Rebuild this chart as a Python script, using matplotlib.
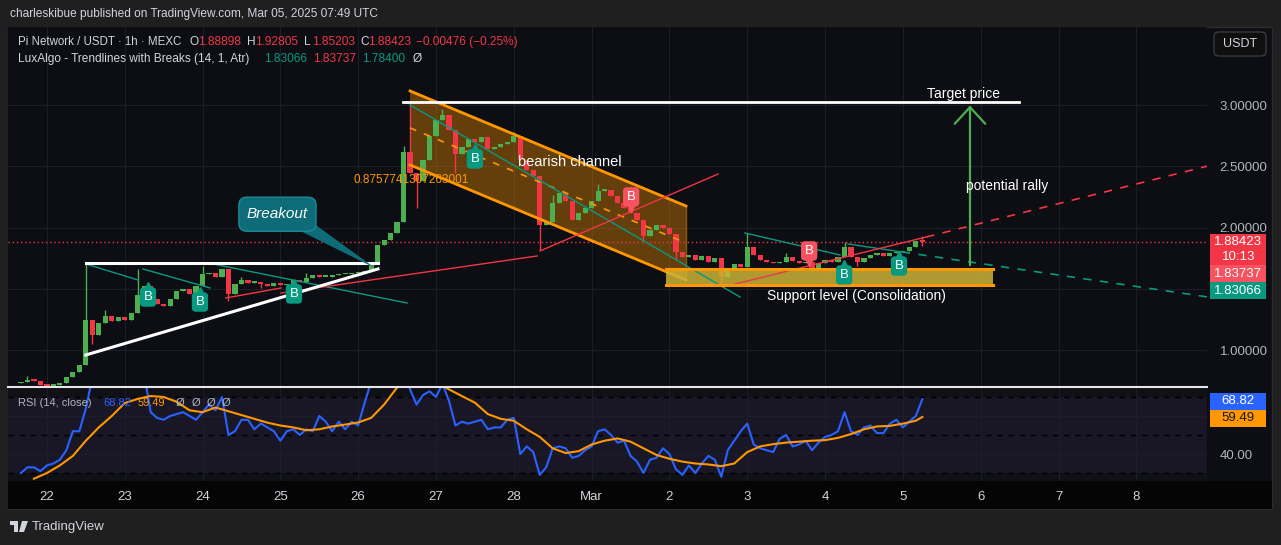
import matplotlib
matplotlib.use("Agg")
import matplotlib.pyplot as plt
import matplotlib.transforms as mtransforms
from matplotlib.patches import Rectangle, FancyBboxPatch, Polygon
import numpy as np

plt.rcParams["font.family"] = ["Liberation Sans", "DejaVu Sans"]

# ---- data: 2h candles, hours since 2025-02-22 00:00 UTC ----
HOURS = list(range(-8, 272, 2))
FIRST_OPEN = 0.73
CLOSE = [
    0.74, 0.76, 0.75, 0.72,
    0.71, 0.715, 0.73, 0.78, 0.82, 0.88, 1.25, 1.12, 1.22, 1.28, 1.24, 1.27,
    1.25, 1.30, 1.45, 1.52, 1.42, 1.38, 1.36, 1.42, 1.48, 1.50, 1.46, 1.52,
    1.62, 1.63, 1.60, 1.66, 1.46, 1.54, 1.57, 1.55, 1.56, 1.54, 1.52, 1.55,
    1.53, 1.54, 1.57, 1.56, 1.59, 1.61, 1.60, 1.60, 1.61, 1.62, 1.62, 1.63,
    1.63, 1.65, 1.70, 1.86, 1.90, 1.96, 2.05, 2.62, 2.45, 2.38, 2.55, 2.75,
    2.88, 2.92, 2.80, 2.60, 2.66, 2.72, 2.70, 2.74, 2.64, 2.66, 2.68, 2.70,
    2.75, 2.55, 2.47, 2.42, 2.02, 2.05, 2.20, 2.28, 2.22, 2.06, 2.12, 2.16,
    2.22, 2.30, 2.31, 2.26, 2.20, 2.16, 2.12, 2.06, 1.93, 1.98, 2.02, 2.00,
    1.95, 1.80, 1.76, 1.78, 1.74, 1.77, 1.72, 1.75, 1.60, 1.66, 1.70, 1.68,
    1.84, 1.78, 1.74, 1.72, 1.71, 1.72, 1.76, 1.73, 1.71, 1.72, 1.66, 1.71,
    1.74, 1.72, 1.76, 1.84, 1.76, 1.72, 1.75, 1.78, 1.79, 1.77, 1.79, 1.80,
    1.81, 1.84, 1.88898, 1.88423,
]
HIGH_WICK = {-6: 0.79, 12: 1.71, 18: 1.33, 28: 1.66, 48: 1.69, 60: 1.60, 80: 1.63,
             110: 2.67, 112: 3.03, 122: 2.97, 144: 2.78, 156: 2.27, 170: 2.36,
             216: 1.96, 228: 1.79, 246: 1.88, 270: 1.92805}
LOW_WICK = {14: 1.05, 32: 1.36, 56: 1.40, 66: 1.51, 114: 2.16, 126: 2.45, 152: 1.82,
            184: 1.88, 194: 1.74, 208: 1.52, 236: 1.64, 250: 1.69, 270: 1.85203}

RSI = [
    30, 33, 33, 31,
    34, 35, 37, 42, 52, 52, 64, 80, 82, 78, 80, 79,
    81, 78, 80, 82, 62, 59, 58, 60, 61, 62, 60, 58,
    62, 66, 63, 70, 50, 52, 58, 58, 53, 56, 54, 52,
    47, 52, 53, 50, 53, 52, 60, 57, 52, 57, 53, 57,
    55, 67, 78, 80, 78, 80, 85, 88, 74, 66, 71, 73,
    70, 77, 68, 55, 57, 56, 57, 58, 53, 54, 54, 58,
    59, 40, 44, 41, 29, 33, 43, 44, 43, 38, 39, 42,
    44, 52, 53, 50, 46, 47, 39, 36, 30, 37, 38, 43,
    40, 32, 29, 34, 30, 35, 39, 37, 28, 42, 47, 52,
    56, 45, 43, 42, 41, 48, 50, 44, 45, 47, 42, 46,
    49, 50, 52, 62, 52, 50, 54, 55, 51, 51, 56, 58,
    54, 57, 60, 68.82,
]
MA_HOURS = list(range(-4, 269, 4)) + [270]
RSI_MA = [
    27, 30, 34, 39, 47, 54, 60, 66.8, 69, 70.5, 70, 67.5,
    63, 62, 64.5, 62.5, 60.5, 58.5, 56.5, 55, 54, 52.5, 53, 54.5,
    55.5, 56.6, 59, 66, 75, 78, 80, 78, 74, 70.5, 67, 61,
    58.5, 57.5, 53, 49, 43, 40.5, 41.5, 45, 47, 48.2, 46.5, 43,
    39.5, 37.5, 36, 35, 34.5, 33.6, 35, 41, 44, 45.2, 46, 46.5,
    47, 47.3, 48.5, 50.5, 53, 54.5, 54.8, 56, 57.5, 59.49,
]
DAY_TICKS = list(range(0, 337, 24))
DAY_LABELS = ["22", "23", "24", "25", "26", "27", "28", "Mar", "2", "3", "4", "5", "6", "7", "8"]
OHLC = {"O": 1.88898, "H": 1.92805, "L": 1.85203, "C": 1.88423}
CHANGE = "\u22120.00476 (\u22120.25%)"
LUX = [1.83066, 1.83737, 1.78400]

# ---- style ----
W, H = 1281, 545
BG = "#0d0e13"
GRID = "#1b1e29"
GREEN, RED = "#4caf50", "#f23645"
TEAL = "#089981"
ORANGE = "#ff9800"
TXT = "#d1d4dc"
AXT = "#b2b5be"

fig = plt.figure(figsize=(W / 100, H / 100), dpi=100, facecolor="#1f1f1f")
PX = mtransforms.Affine2D().scale(1 / W, -1 / H).translate(0, 1) + fig.transFigure


def rect(x0, y0, x1, y1):
    return [x0 / W, 1 - y1 / H, (x1 - x0) / W, (y1 - y0) / H]


fig.patches.append(Rectangle((8, 27), 1264, 482, transform=PX, facecolor=BG,
                             edgecolor="#2c2c2c", lw=1, zorder=-5))
fig.patches.append(Rectangle((8, 481), 1264, 28, transform=PX, facecolor="#050505",
                             edgecolor="none", zorder=-4))

ax = fig.add_axes(rect(8, 27, 1207, 387))
rs = fig.add_axes(rect(8, 387, 1207, 481))
XLIM = (-12.0, 357.8)
for a in (ax, rs):
    a.set_xlim(*XLIM)
    a.set_xticks(DAY_TICKS)
    for s in a.spines.values():
        s.set_visible(False)
    a.grid(True, color=GRID, lw=0.8)
    a.set_axisbelow(True)
ax.set_facecolor(BG)
ax.set_ylim(0.6996, 3.638)
ax.tick_params(axis="x", length=0, labelbottom=False)
ax.yaxis.tick_right()
ax.set_yticks([1.0, 1.5, 2.0, 2.5, 3.0])
ax.set_yticklabels(["1.00000", "", "2.00000", "2.50000", "3.00000"])
ax.tick_params(axis="y", length=0, pad=9, labelcolor=AXT, labelsize=9.5)

# ---- candles ----
t = np.array(HOURS, float)
c = np.array(CLOSE)
o = np.r_[FIRST_OPEN, c[:-1]]
o[-1] = OHLC["O"]
hi = np.maximum(o, c)
lo = np.minimum(o, c)
for k, v in HIGH_WICK.items():
    hi[HOURS.index(k)] = v
for k, v in LOW_WICK.items():
    lo[HOURS.index(k)] = v
col = np.where(c >= o, GREEN, RED)
ax.vlines(t, lo, hi, colors=col, lw=1, zorder=5)
ax.bar(t, np.maximum(np.abs(c - o), 0.012), bottom=np.minimum(o, c), width=1.6,
       color=col, zorder=5)

# ---- drawings ----
# bearish channel
ch_t = [112.0, 197.1]
ch_top = [3.116, 2.177]
ch_bot = [2.512, 1.573]
ax.add_patch(Polygon([(ch_t[0], ch_top[0]), (ch_t[1], ch_top[1]), (ch_t[1], ch_bot[1]),
                      (ch_t[0], ch_bot[0])], closed=True, facecolor=ORANGE, alpha=0.36,
                     edgecolor="none", zorder=2))
ax.plot(ch_t, ch_top, color=ORANGE, lw=2, zorder=6)
ax.plot(ch_t, ch_bot, color=ORANGE, lw=2, zorder=6)
ax.plot(ch_t, [(a + b) / 2 for a, b in zip(ch_top, ch_bot)], color=ORANGE, lw=1.2,
        ls=(0, (4, 5)), zorder=6)
ax.plot([ch_t[1], ch_t[1]], [ch_top[1], ch_bot[1]], color=ORANGE, lw=1, alpha=0.5, zorder=6)

# support box
ax.add_patch(Rectangle((190.9, 1.532), 100.9, 0.127, facecolor="#ccb436", alpha=0.85,
                       edgecolor="none", zorder=6))
ax.plot([190.9, 291.8], [1.659, 1.659], color=ORANGE, lw=2.2, zorder=7)
ax.plot([190.9, 291.8], [1.532, 1.532], color=ORANGE, lw=2.2, zorder=7)

# triangle (white)
ax.plot([12.0, 102.1], [1.708, 1.708], color="white", lw=2.2, zorder=7)
ax.plot([12.0, 102.1], [0.961, 1.663], color="white", lw=2.2, zorder=7)

# LuxAlgo trendlines
for xs, ys in [([12.6, 28.1], [1.699, 1.573]), ([29.6, 50.3], [1.663, 1.508]),
               ([51.2, 111.1], [1.704, 1.385]), ([112.0, 213.8], [3.002, 1.434]),
               ([215.3, 244.6], [1.957, 1.777]), ([247.1, 263.7], [1.867, 1.802])]:
    ax.plot(xs, ys, color=TEAL, lw=1, zorder=6)
ax.plot([263.7, 358.1], [1.802, 1.434], color=TEAL, lw=1.2, ls=(0, (5, 5)), zorder=6)
for xs, ys in [([55.2, 72.2], [1.426, 1.508]), ([72.2, 151.2], [1.467, 1.769]),
               ([152.1, 207.0], [1.810, 2.438]), ([208.5, 271.2], [1.516, 1.924])]:
    ax.plot(xs, ys, color=RED, lw=1, zorder=6)
ax.plot([271.2, 358.1], [1.924, 2.504], color=RED, lw=1.2, ls=(0, (5, 5)), zorder=6)

# current price line
ax.axhline(OHLC["C"], color=RED, lw=1, ls=(0, (1, 2)), zorder=3)

# target + rally arrow
ax.plot([109.8, 299.8], [3.026, 3.026], color="white", lw=2, zorder=7)
ax.text(282.6, 3.095, "Target price", color="white", fontsize=10, ha="center",
        va="center", zorder=8)
ax.annotate("", xy=(284.7, 3.02), xytext=(284.7, 1.671),
            arrowprops=dict(arrowstyle="->,head_length=0.6,head_width=0.55",
                            color=GREEN, lw=1.6, mutation_scale=20), zorder=8)
ax.text(283.5, 2.34, "potential rally", color="white", fontsize=10, ha="left",
        va="center", zorder=8)
ax.text(145.3, 2.536, "bearish channel", color="white", fontsize=10.5, ha="left",
        va="center", zorder=8)
ax.text(94.5, 2.389, "0.8757741307263001", color=ORANGE, fontsize=8.5, ha="left",
        va="center", zorder=8)
ax.text(249.6, 1.442, "Support level (Consolidation)", color="white", fontsize=10,
        ha="center", va="center", zorder=8)

# breakout callout
ax.add_patch(Polygon([(78.0, 1.975), (83.0, 2.02), (101.2, 1.671)], closed=True,
                     facecolor="#0e6b78", edgecolor="none", zorder=8))
ax.add_patch(FancyBboxPatch((59.2, 1.971), 23.8, 0.278,
                            boxstyle="round,pad=0,rounding_size=2.5",
                            mutation_aspect=0.02646, facecolor="#0e6b78",
                            edgecolor="#1b8a98", lw=1, zorder=8))
ax.text(71.1, 2.11, "Breakout", color="white", fontsize=11, style="italic",
        ha="center", va="center", zorder=9)

# break labels
B_UP = [(31.2, 1.434), (47.2, 1.393), (76.2, 1.459), (132.0, 2.561), (245.9, 1.614),
        (262.8, 1.687)]
B_DOWN = [(180.2, 2.251), (235.1, 1.810)]
for lst, fc, mk, dy in [(B_UP, TEAL, "^", 11), (B_DOWN, "#f7525f", "v", -11)]:
    for bx, by in lst:
        off = mtransforms.offset_copy(ax.transData, fig=fig, y=dy, units="dots")
        ax.plot([bx], [by], marker=mk, ms=6, color=fc, transform=off, zorder=9)
        ax.text(bx, by, "B", color="white", fontsize=9.5, ha="center", va="center",
                zorder=10, bbox=dict(boxstyle="round,pad=0.28,rounding_size=0.3",
                                     fc=fc, ec="none"))

# price tags on the right
BL = mtransforms.blended_transform_factory(ax.transAxes, ax.transData)
tags = [(1.695, 1.948, RED, f"{OHLC['C']:.5f}\n10:13"),
        (1.556, 1.695, "#f7525f", f"{LUX[1]:.5f}"),
        (1.418, 1.556, TEAL, f"{LUX[0]:.5f}")]
for y0, y1, fc, s in tags:
    ax.add_patch(Rectangle((1.0025, y0), 0.0467, y1 - y0, transform=BL, facecolor=fc,
                           edgecolor="none", clip_on=False, zorder=10))
    ax.text(1.026, (y0 + y1) / 2, s, transform=BL, color="white", fontsize=9.5,
            ha="center", va="center", linespacing=1.25, clip_on=False, zorder=11)

# ---- RSI pane ----
rs.set_facecolor("#101017")
rs.set_ylim(25.8, 75.26)
rs.axhspan(30, 70, color="#7e57c2", alpha=0.09, lw=0, zorder=0)
for lv in (30, 50, 70):
    rs.axhline(lv, color="#000000", lw=1, ls=(0, (4, 4)), zorder=1)
rs.plot(HOURS, RSI, color="#2962ff", lw=1.5, zorder=4)
rs.plot(MA_HOURS, RSI_MA, color=ORANGE, lw=1.5, zorder=4)
rs.yaxis.tick_right()
rs.set_yticks([40, 60])
rs.set_yticklabels(["40.00", ""])
rs.tick_params(axis="y", length=0, pad=9, labelcolor=AXT, labelsize=9.5)
rs.set_xticklabels(DAY_LABELS)
rs.tick_params(axis="x", length=0, pad=7, labelcolor=TXT, labelsize=9.5)
BR = mtransforms.blended_transform_factory(rs.transAxes, rs.transData)
for y0, y1, fc, tc, v in [(63.2, 72.1, "#2962ff", "white", RSI[-1]),
                          (54.2, 63.2, ORANGE, "#131722", RSI_MA[-1])]:
    rs.add_patch(Rectangle((1.0025, y0), 0.0467, y1 - y0, transform=BR, facecolor=fc,
                           edgecolor="none", clip_on=False, zorder=10))
    rs.text(1.026, (y0 + y1) / 2, f"{v:.2f}", transform=BR, color=tc, fontsize=9.5,
            ha="center", va="center", clip_on=False, zorder=11)
fig.add_artist(plt.Line2D([8, 1207], [387, 387], transform=PX, color="#e6e6e6", lw=1.5))

# ---- header / legend text ----
fig.text(10, 14, "charleskibue published on TradingView.com, Mar 05, 2025 07:49 UTC",
         transform=PX, color=TXT, fontsize=8.6, va="center")
fig.text(18, 42, "Pi Network / USDT \u00b7 1h \u00b7 MEXC", transform=PX, color=TXT,
         fontsize=8.3, va="center")
for (lab, val), x in zip(OHLC.items(), [190, 247, 304, 360]):
    fig.text(x, 42, lab, transform=PX, color=TXT, fontsize=8.6, va="center")
    fig.text(x + 8, 42, f"{val:.5f}", transform=PX, color=RED, fontsize=8.6, va="center")
fig.text(416, 42, CHANGE, transform=PX, color=RED, fontsize=8.6, va="center")
fig.text(18, 59, "LuxAlgo - Trendlines with Breaks (14, 1, Atr)", transform=PX,
         color=TXT, fontsize=8.6, va="center")
for v, x, cc in zip(LUX, [264, 313, 362], [TEAL, RED, TEAL]):
    fig.text(x, 59, f"{v:.5f}", transform=PX, color=cc, fontsize=8.6, va="center")
fig.text(413, 59, "\u00d8", transform=PX, color=TXT, fontsize=8.6, va="center")

fig.text(18, 403, "RSI (14, close)", transform=PX, color=AXT, fontsize=8, va="center",
         zorder=1)
fig.text(103, 403, f"{RSI[-1]:.2f}", transform=PX, color="#2962ff", fontsize=8,
         va="center", zorder=1)
fig.text(138, 403, f"{RSI_MA[-1]:.2f}", transform=PX, color=ORANGE, fontsize=8,
         va="center", zorder=1)
for x in (176, 192, 207, 222):
    fig.text(x, 403, "\u00d8", transform=PX, color=AXT, fontsize=8, va="center", zorder=1)

# USDT button
fig.patches.append(FancyBboxPatch((1214, 32), 52, 24, transform=PX,
                                  boxstyle="round,pad=0,rounding_size=5",
                                  facecolor="#0f0f0f", edgecolor="#3a3a3a", lw=1))
fig.text(1240, 44, "USDT", transform=PX, color=TXT, fontsize=9, ha="center",
         va="center")

# TradingView logo
fig.patches.append(Rectangle((10, 521), 8, 4, transform=PX, facecolor=TXT))
fig.patches.append(Rectangle((14, 521), 4, 11, transform=PX, facecolor=TXT))
fig.patches.append(Polygon([(22, 521), (28, 521), (24, 532), (19, 532)], transform=PX,
                           facecolor=TXT))
fig.text(32, 527, "TradingView", transform=PX, color=TXT, fontsize=9.5, va="center")

fig.savefig("out.png", dpi=100, facecolor=fig.get_facecolor())
